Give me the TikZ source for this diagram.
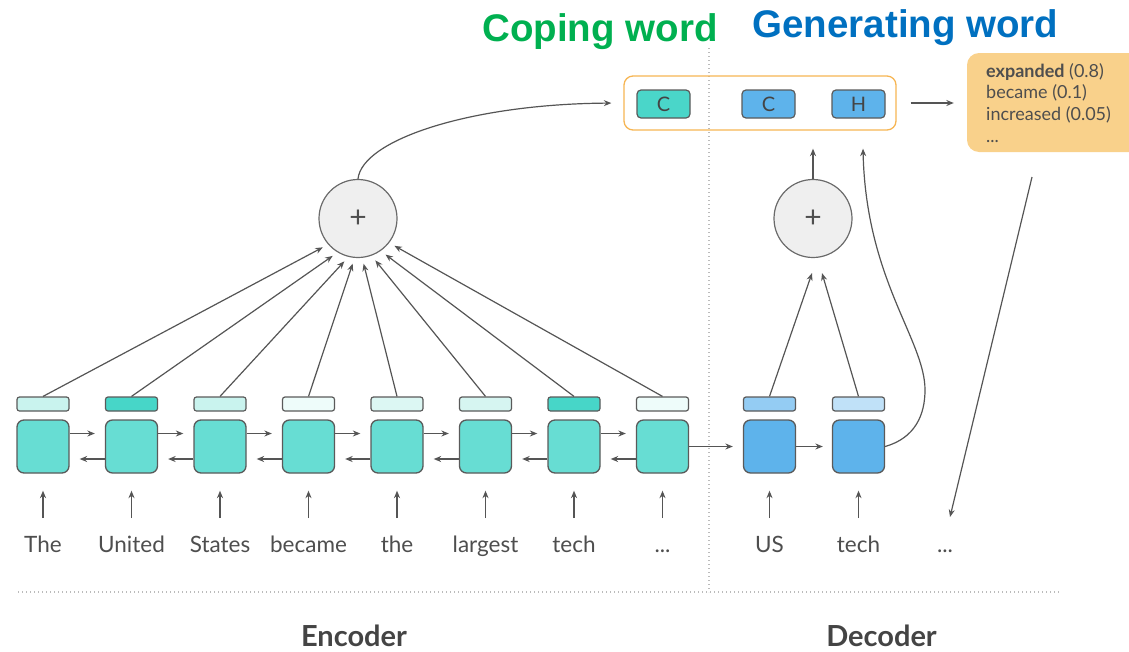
\documentclass[tikz,border=0pt]{standalone}
\usepackage{fontspec}
\setmainfont{Lato}
\newfontfamily\headfont{Liberation Sans}
\usetikzlibrary{arrows.meta,calc}

\newcommand\wdots{...}

\definecolor{encfill}{HTML}{67DDD3}
\definecolor{decfill}{HTML}{5EB3EB}
\definecolor{cellline}{HTML}{5A5A5A}
\definecolor{arrowgray}{HTML}{555555}
\definecolor{textgray}{HTML}{4E4E4E}
\definecolor{labelgray}{HTML}{444444}
\definecolor{circfill}{HTML}{EFEFEF}
\definecolor{circline}{HTML}{6A6A6A}
\definecolor{dotgray}{HTML}{BBBBBB}
\definecolor{outfill}{HTML}{F9D18B}
\definecolor{boxline}{HTML}{F6B553}
\definecolor{copyteal}{HTML}{4AD6C9}
\definecolor{copygreen}{HTML}{00B050}
\definecolor{genblue}{HTML}{0070C0}
% attention weights (light = low, dark = high)
\definecolor{wA}{HTML}{C9F3EE}
\definecolor{wB}{HTML}{47D6C8}
\definecolor{wC}{HTML}{EEFCFA}
\definecolor{wD}{HTML}{DCF7F3}
\definecolor{wE}{HTML}{D6F5F1}
\definecolor{dwA}{HTML}{94CCF3}
\definecolor{dwB}{HTML}{C0E1F8}

\tikzset{
  cell/.style={draw=cellline, line width=1.3pt, rounded corners=7pt,
    minimum width=52pt, minimum height=53pt, inner sep=0pt},
  enccell/.style={cell, fill=encfill},
  deccell/.style={cell, fill=decfill},
  weight/.style={draw=cellline, line width=1.2pt, rounded corners=2.5pt,
    minimum width=52pt, minimum height=14pt, inner sep=0pt},
  conn/.style={draw=arrowgray, line width=1.2pt, -{Stealth[length=7.5pt,width=6pt]}},
  word/.style={font=\fontsize{22.5}{24}\selectfont, text=textgray, anchor=base, inner sep=0pt},
  sumnode/.style={circle, draw=circline, fill=circfill, line width=1.2pt,
    minimum size=78pt, inner sep=0pt, font=\fontsize{30}{30}\selectfont, text=textgray},
  slot/.style={draw=cellline, line width=1.2pt, rounded corners=4pt,
    minimum width=53pt, minimum height=28pt, inner sep=0pt,
    font=\fontsize{20}{20}\selectfont, text=labelgray},
  dotline/.style={draw=dotgray, line width=1.3pt, dash pattern=on 1.3pt off 2.7pt},
  part/.style={font=\bfseries\fontsize{29}{30}\selectfont, text=labelgray, anchor=base},
  head/.style={font=\headfont\bfseries\fontsize{38.5}{40}\selectfont, anchor=base, inner sep=0pt}
}

\begin{document}
\begin{tikzpicture}[x=1pt,y=-1pt]
\useasboundingbox (0,0) rectangle (1129,651);

% separators
\draw[dotline] (709,48) -- (709,592);
\draw[dotline] (18,592) -- (1060,592);

% headings
\node[head, text=copygreen] (hcopy) at (600,41) {Coping word};
\node[head, text=genblue] (hgen) at (905.5,37) {Generating word};

% encoder cells, weights and inputs
\foreach \i/\x/\w/\c in {1/43/The/wA, 2/131.5/United/wB, 3/220/States/wA,
    4/308.5/became/wC, 5/397/the/wD, 6/485.5/largest/wE, 7/574/tech/wB, 8/662.5/\wdots/wC} {
  \node[enccell] (e\i) at (\x,446.5) {};
  \node[weight, fill=\c] (a\i) at (\x,404) {};
  \node[word] (w\i) at (\x,552) {\w};
  \draw[conn, shorten >=17pt] ($(w\i.base)+(0,-34)$) -- (e\i.south);
}

% decoder cells, weights and inputs
\node[deccell] (d1) at (769.5,446.5) {};
\node[deccell] (d2) at (858.5,446.5) {};
\node[weight, fill=dwA] (da1) at (769.5,404) {};
\node[weight, fill=dwB] (da2) at (858.5,404) {};
\node[word] (dw1) at (769.5,552) {US};
\node[word] (dw2) at (858.5,552) {tech};
\node[word] (dw3) at (945,552) {\wdots};
\draw[conn, shorten >=17pt] ($(dw1.base)+(0,-34)$) -- (d1.south);
\draw[conn, shorten >=17pt] ($(dw2.base)+(0,-34)$) -- (d2.south);

% recurrent links
\foreach \i/\j in {1/2,2/3,3/4,4/5,5/6,6/7,7/8} {
  \draw[conn, shorten >=10pt] ($(e\i.east)+(0,-13)$) -- ($(e\j.west)+(0,-13)$);
  \draw[conn, shorten >=10pt] ($(e\j.west)+(0,12.5)$) -- ($(e\i.east)+(0,12.5)$);
}
\draw[conn, shorten >=10pt] (e8.east) -- (d1.west);
\draw[conn, shorten >=9pt] (d1.east) -- (d2.west);

% attention sums
\node[sumnode] (att) at (358,218.5) {+};
\node[sumnode] (dsum) at (813,218.5) {+};
\foreach \i/\ang in {1/221,2/239,3/256,4/265,5/276,6/290,7/305,8/322}
  \draw[conn, shorten >=6pt] (a\i.north) -- (att.\ang);
\draw[conn] (da1.north) -- ($(dsum.south)+(-1,15)$);
\draw[conn] (da2.north) -- ($(dsum.south)+(9,15)$);

% output slots
\node[draw=boxline, line width=1.3pt, rounded corners=9pt,
  minimum width=272pt, minimum height=54pt, inner sep=0pt] (topbox) at (760,103) {};
\node[slot, fill=copyteal] (s1) at (663.5,104) {C};
\node[slot, fill=decfill] (s2) at (768.5,104) {C};
\node[slot, fill=decfill] (s3) at (858.5,104) {H};

\draw[conn] (dsum.north) -- ($(topbox.south -| dsum.north)+(0,18)$);
\draw[conn] (d2.east) .. controls (915,438) and (925,415) .. (925,390)
  .. controls (925,340) and (866,280) .. ($(topbox.south -| s3.south)+(4.5,18)$);
\draw[conn, shorten >=12pt] (att.north) .. controls (362,140) and (470,104) .. (topbox.west);

% output distribution
\node[fill=outfill, rounded corners=12pt, minimum width=176pt, minimum height=99pt,
  inner sep=0pt] (outbox) at (1055,102.5) {};
\node[anchor=north west, align=left, inner sep=0pt, text=textgray,
  font=\fontsize{18}{21.7}\selectfont] (dist) at (986,63)
  {\textbf{expanded} (0.8)\\became (0.1)\\increased (0.05)\\\wdots};
\draw[conn, shorten <=14pt, shorten >=13pt] (topbox.east) -- (outbox.west |- topbox.east);

\coordinate (loopstart) at (1032,177);
\coordinate (loopend) at (950,517);
\draw[conn] (loopstart) -- (loopend);

% part labels
\node[part] (enc) at (354,646) {Encoder};
\node[part] (dec) at (881.5,646) {Decoder};
\end{tikzpicture}
\end{document}
